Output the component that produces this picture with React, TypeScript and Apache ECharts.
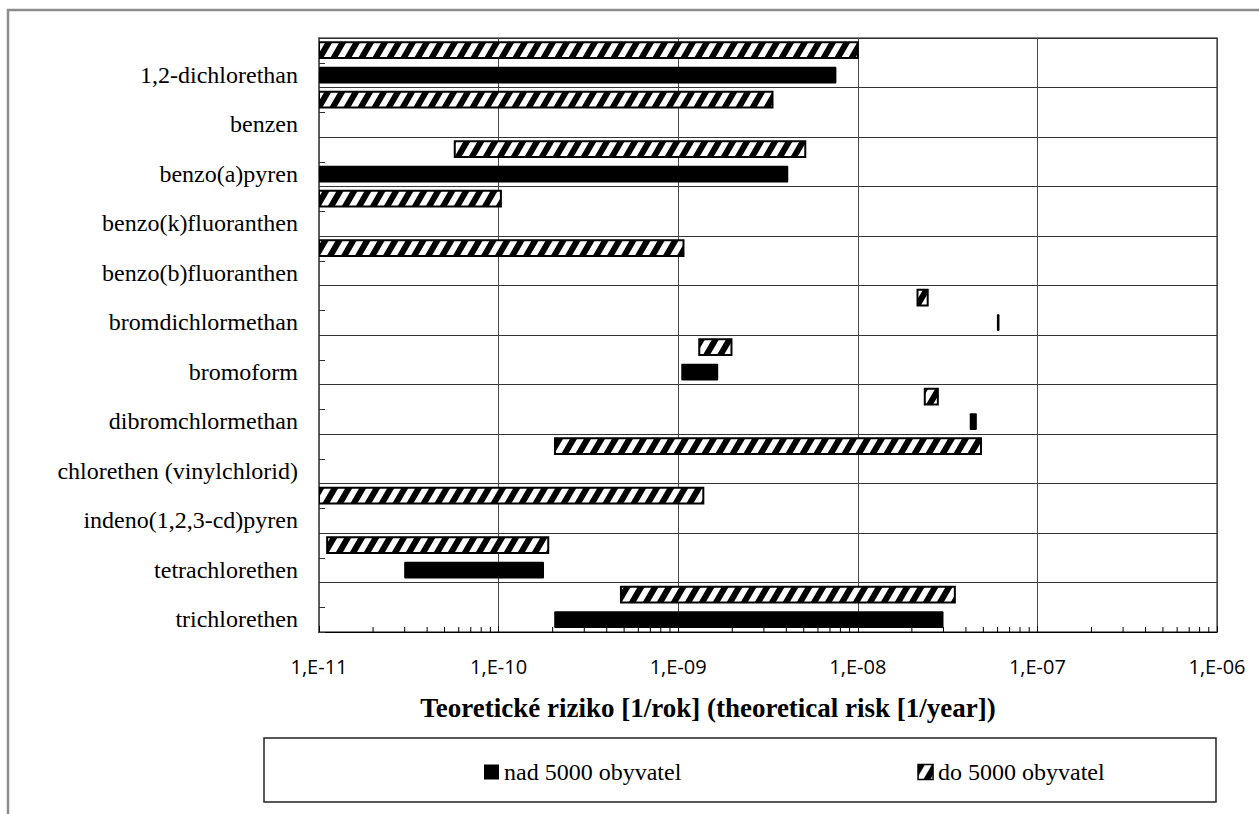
import React, { useEffect, useRef } from 'react';
import * as echarts from 'echarts';

// Substances, top to bottom
const categories = [
  '1,2-dichlorethan',
  'benzen',
  'benzo(a)pyren',
  'benzo(k)fluoranthen',
  'benzo(b)fluoranthen',
  'bromdichlormethan',
  'bromoform',
  'dibromchlormethan',
  'chlorethen (vinylchlorid)',
  'indeno(1,2,3-cd)pyren',
  'tetrachlorethen',
  'trichlorethen',
];

// Risk ranges [1/year] for supply systems up to 5000 inhabitants
const smallMin = [1e-11, 1e-11, 5.7e-11, 1e-11, 1e-11, 2.15e-8, 1.31e-9, 2.36e-8, 2.06e-10, 1e-11, 1.11e-11, 4.8e-10];
const smallMax = [1.0e-8, 3.35e-9, 5.1e-9, 1.03e-10, 1.07e-9, 2.45e-8, 1.98e-9, 2.79e-8, 4.85e-8, 1.38e-9, 1.89e-10, 3.47e-8];

// Risk ranges [1/year] for supply systems above 5000 inhabitants (null = no data)
const largeMin = [1e-11, null, 1e-11, null, null, 5.95e-8, 1.04e-9, 4.2e-8, null, null, 2.98e-11, 2.04e-10];
const largeMax = [7.6e-9, null, 4.1e-9, null, null, 6.15e-8, 1.67e-9, 4.6e-8, null, null, 1.79e-10, 3.0e-8];

// Axis range and minor tick mantissas on the log axis
const axisMin = 1e-11;
const axisMax = 1e-6;
const minorMantissas = [2, 3, 4, 5, 6, 7, 8, 9];
const minorDecades = [-11, -10, -9, -8, -7];

const seriesLarge = 'nad 5000 obyvatel';
const seriesSmall = 'do 5000 obyvatel';

function makeHatch() {
  const w = 14;
  const h = 24;
  const b = 7;
  const c = document.createElement('canvas');
  c.width = w;
  c.height = h;
  const ctx = c.getContext('2d')!;
  ctx.fillStyle = '#fff';
  ctx.fillRect(0, 0, w, h);
  ctx.fillStyle = '#000';
  for (const off of [-w, 0, w]) {
    ctx.beginPath();
    ctx.moveTo(off, h);
    ctx.lineTo(off + b, h);
    ctx.lineTo(off + b + w, 0);
    ctx.lineTo(off + w, 0);
    ctx.closePath();
    ctx.fill();
  }
  return { image: c, repeat: 'repeat', imageWidth: w, imageHeight: h } as any;
}

function toRanges(mins: (number | null)[], maxs: (number | null)[]) {
  const out: number[][] = [];
  mins.forEach((lo, i) => {
    const hi = maxs[i];
    if (lo != null && hi != null) out.push([i, lo, hi]);
  });
  return out;
}

function fmtExp(v: number) {
  const e = Math.round(Math.log10(v));
  const a = Math.abs(e);
  return '1,E' + (e < 0 ? '-' : '+') + (a < 10 ? '0' + a : String(a));
}

export default function App() {
  const ref = useRef<HTMLDivElement>(null);

  useEffect(() => {
    document.body.style.margin = '0';
    const chart = echarts.init(ref.current!, undefined, { renderer: 'svg' });
    const hatch = makeHatch();

    const rangeRenderer = (shift: number, hatched: boolean) => (params: any, api: any) => {
      const cat = api.value(0);
      const start = api.coord([api.value(1), cat]);
      const end = api.coord([api.value(2), cat]);
      const band = api.size([0, 1], [1e-9, cat])[1];
      const height = band * (hatched ? 0.32 : 0.343);
      const cs = params.coordSys;
      const shape = echarts.graphic.clipRectByRect(
        {
          x: start[0],
          y: start[1] + band * shift - height / 2,
          width: Math.max(end[0] - start[0], 1),
          height,
        },
        { x: cs.x, y: cs.y, width: cs.width, height: cs.height }
      );
      if (!shape) return null;
      return {
        type: 'rect',
        shape: { ...shape, r: hatched ? 0 : 1 },
        style: hatched
          ? { fill: hatch, stroke: '#000', lineWidth: 2 }
          : { fill: '#000' },
      };
    };

    const minorTicks: number[][] = [];
    minorDecades.forEach((d) => {
      minorMantissas.forEach((m) => {
        minorTicks.push([m * Math.pow(10, d), 0]);
      });
    });

    chart.setOption({
      animation: false,
      grid: {
        left: 319,
        right: 42,
        top: 38,
        bottom: 182,
        show: true,
        borderColor: '#5a5a5a',
        borderWidth: 1.5,
        containLabel: false,
      },
      legend: {
        left: 479,
        top: 755,
        itemWidth: 15,
        itemHeight: 15,
        itemGap: 236,
        icon: 'rect',
        textStyle: { fontFamily: 'Liberation Serif', fontSize: 24, color: '#000' },
        data: [
          { name: seriesLarge, itemStyle: { color: '#000' } },
          { name: seriesSmall, itemStyle: { color: hatch, borderColor: '#000', borderWidth: 1.5 } },
        ],
      },
      xAxis: {
        type: 'log',
        logBase: 10,
        min: axisMin,
        max: axisMax,
        splitNumber: 5,
        name: 'Teoretické riziko [1/rok] (theoretical risk [1/year])',
        nameLocation: 'middle',
        nameGap: 62,
        nameTextStyle: {
          fontFamily: 'Liberation Serif',
          fontWeight: 'bold',
          fontSize: 27,
          color: '#000',
          padding: [0, 120, 0, 0],
        },
        axisLine: { show: true, lineStyle: { color: '#000', width: 1 } },
        axisTick: { show: true, inside: true, length: 6, lineStyle: { color: '#000' } },
        axisLabel: {
          formatter: (v: number) => fmtExp(v),
          fontFamily: 'Open Sans',
          fontSize: 20,
          color: '#000',
          margin: 24,
        },
        splitLine: { show: true, lineStyle: { color: '#4a4a4a', width: 1 } },
      },
      yAxis: [
        {
          type: 'category',
          data: categories,
          inverse: true,
          axisLine: { show: true, lineStyle: { color: '#5a5a5a', width: 1.5 } },
          axisTick: { show: false },
          axisLabel: {
            fontFamily: 'Liberation Serif',
            fontSize: 24,
            lineHeight: 24,
            color: '#000',
            margin: 21,
            verticalAlign: 'top',
          },
          splitLine: { show: true, lineStyle: { color: '#333', width: 1 } },
        },
        {
          type: 'category',
          data: categories.flatMap(() => ['', '']),
          position: 'left',
          inverse: true,
          axisLine: { show: false },
          axisLabel: { show: false },
          axisTick: { show: true, inside: true, length: 6, lineStyle: { color: '#333' } },
          splitLine: { show: false },
        },
      ],
      series: [
        {
          name: seriesSmall,
          type: 'custom',
          coordinateSystem: 'cartesian2d',
          yAxisIndex: 0,
          clip: true,
          itemStyle: { color: hatch, borderColor: '#000' },
          encode: { x: [1, 2], y: 0 },
          renderItem: rangeRenderer(-0.255, true),
          data: toRanges(smallMin, smallMax),
        },
        {
          name: seriesLarge,
          type: 'custom',
          coordinateSystem: 'cartesian2d',
          yAxisIndex: 0,
          clip: true,
          itemStyle: { color: '#000' },
          encode: { x: [1, 2], y: 0 },
          renderItem: rangeRenderer(0.25, false),
          data: toRanges(largeMin, largeMax),
        },
        {
          name: 'minor ticks',
          type: 'custom',
          coordinateSystem: 'cartesian2d',
          yAxisIndex: 0,
          silent: true,
          encode: { x: 0 },
          renderItem: (params: any, api: any) => {
            const x = api.coord([api.value(0), 0])[0];
            const cs = params.coordSys;
            const yb = cs.y + cs.height;
            return {
              type: 'line',
              shape: { x1: x, y1: yb, x2: x, y2: yb - 5 },
              style: { stroke: '#000', lineWidth: 1 },
            };
          },
          data: minorTicks,
        },
      ],
      graphic: [
        {
          type: 'rect',
          shape: { x: 8, y: 10, width: 1300, height: 900 },
          style: { fill: 'none', stroke: '#8c8c8c', lineWidth: 2.5 },
          silent: true,
        },
        {
          type: 'rect',
          shape: { x: 264, y: 738, width: 952, height: 64 },
          style: { fill: 'none', stroke: '#222', lineWidth: 1.5 },
          silent: true,
        },
      ],
    });

    return () => chart.dispose();
  }, []);

  return <div ref={ref} style={{ width: 1259, height: 814 }} />;
}
